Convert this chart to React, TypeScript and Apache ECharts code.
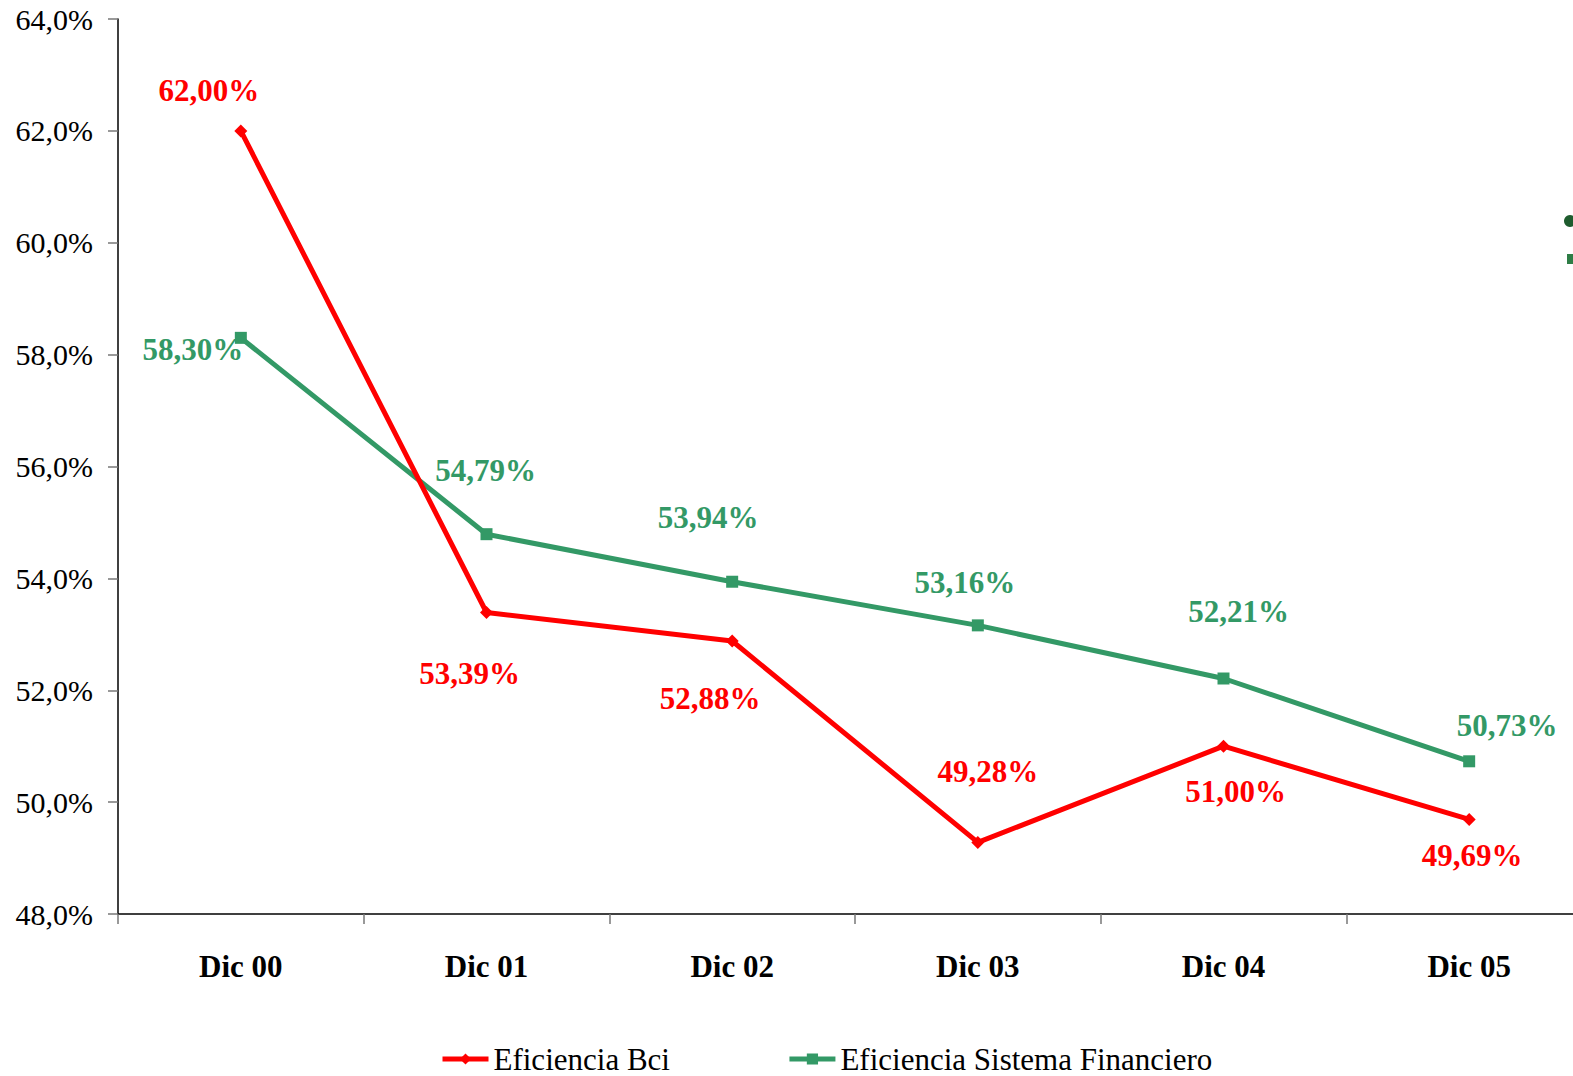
import React, { useEffect, useRef } from "react";
import * as echarts from "echarts";

const categories = ["Dic 00", "Dic 01", "Dic 02", "Dic 03", "Dic 04", "Dic 05"];
const bciValues = [62.0, 53.39, 52.88, 49.28, 51.0, 49.69];
const sistemaValues = [58.3, 54.79, 53.94, 53.16, 52.21, 50.73];
const bciLabelOffsets: [number, number][] = [[-32, -40], [-17, 61], [-22, 57], [10, -71], [12, 45], [3, 36]];
const sisLabelOffsets: [number, number][] = [[-48, 12], [-1, -64], [-24, -64], [-13, -43], [15, -67], [38, -36]];

const RED = "#ff0000";
const GREEN = "#339966";
const FONT = "Liberation Serif";

const fmt = (v: number) => v.toFixed(2).replace(".", ",") + "%";

export default function App() {
  const ref = useRef<HTMLDivElement>(null);
  useEffect(() => {
    if (!ref.current) return;
    const chart = echarts.init(ref.current, null, { renderer: "svg" });
    const mk = (vals: number[], offs: [number, number][]) =>
      vals.map((v, i) => ({
        value: v,
        label: { offset: offs[i] },
      }));
    chart.setOption({
      animation: false,
      backgroundColor: "#ffffff",
      grid: { left: 118, top: 19, width: 1474, height: 895 },
      legend: {
        left: 435,
        top: 1038,
        itemGap: 117,
        itemWidth: 46,
        itemHeight: 14,
        lineStyle: { width: 5 },
        textStyle: { fontFamily: FONT, fontSize: 31, color: "#000", lineHeight: 32 },
        data: ["Eficiencia Bci", "Eficiencia Sistema Financiero"],
      },
      xAxis: {
        type: "category",
        data: categories,
        boundaryGap: true,
        axisLine: { lineStyle: { color: "#000", width: 1.5 } },
        axisTick: { show: true, length: 10, lineStyle: { color: "#777", width: 1.5 } },
        axisLabel: {
          fontFamily: FONT,
          fontSize: 31,
          fontWeight: "bold",
          color: "#000",
          margin: 37,
        },
      },
      yAxis: {
        type: "value",
        min: 48,
        max: 64,
        interval: 2,
        axisLine: { show: true, lineStyle: { color: "#000", width: 1.5 } },
        axisTick: { show: true, length: 10, lineStyle: { color: "#777", width: 1.5 } },
        splitLine: { show: false },
        axisLabel: {
          fontFamily: FONT,
          fontSize: 30,
          color: "#000",
          margin: 25,
          formatter: (v: number) => v.toFixed(1).replace(".", ",") + "%",
        },
      },
      series: [
        {
          name: "Eficiencia Bci",
          type: "line",
          data: mk(bciValues, bciLabelOffsets),
          symbol: "diamond",
          symbolSize: 13,
          itemStyle: { color: RED },
          lineStyle: { color: RED, width: 5 },
          z: 3,
          label: {
            show: true,
            position: "inside",
            fontFamily: FONT,
            fontSize: 31,
            fontWeight: "bold",
            color: RED,
            formatter: (p: any) => fmt(p.value),
          },
        },
        {
          name: "Eficiencia Sistema Financiero",
          type: "line",
          data: mk(sistemaValues, sisLabelOffsets),
          symbol: "rect",
          symbolSize: 12,
          itemStyle: { color: GREEN },
          lineStyle: { color: GREEN, width: 5 },
          z: 2,
          label: {
            show: true,
            position: "inside",
            fontFamily: FONT,
            fontSize: 31,
            fontWeight: "bold",
            color: GREEN,
            formatter: (p: any) => fmt(p.value),
          },
        },
      ],
      graphic: [
        { type: "circle", shape: { cx: 1570, cy: 221, r: 6 }, style: { fill: "#1e5c2e" } },
        { type: "rect", shape: { x: 1567, y: 254, width: 6, height: 10 }, style: { fill: "#2e7d46" } },
      ],
    });
    return () => chart.dispose();
  }, []);
  return (
    <div style={{ position: "absolute", left: 0, top: 0, width: 1573, height: 1076, overflow: "hidden" }}>
      <div ref={ref} style={{ position: "absolute", left: 0, top: 0, width: 1640, height: 1076 }} />
    </div>
  );
}
